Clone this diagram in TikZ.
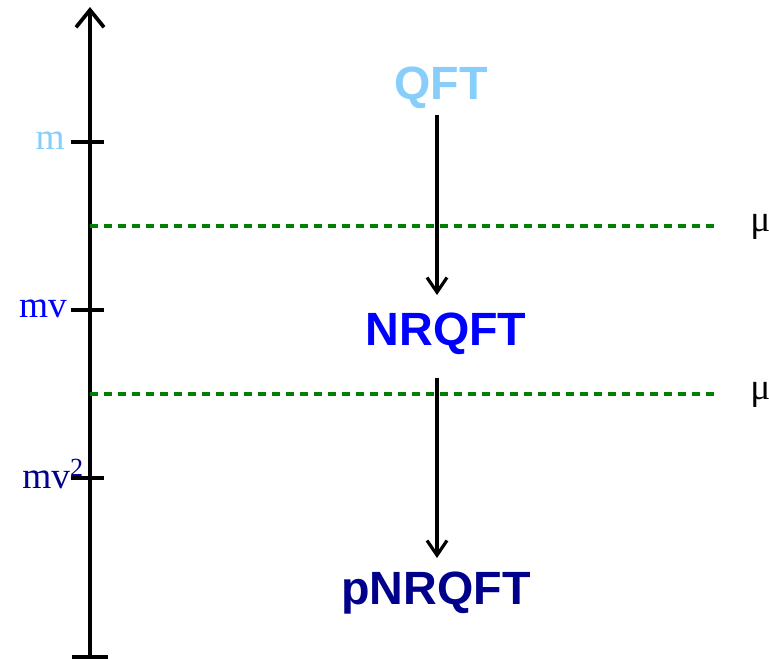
\documentclass[tikz,border=0pt]{standalone}
\usepackage{fontspec}
\setmainfont{Liberation Serif}
\newfontfamily\headfont{Liberation Sans}
\usetikzlibrary{arrows.meta}
\definecolor{qftcol}{RGB}{135,206,250}
\definecolor{nrqftcol}{RGB}{0,0,255}
\definecolor{pnrqftcol}{RGB}{0,0,139}
\definecolor{scalecol}{RGB}{0,128,0}
\tikzset{
  axisline/.style={line width=3.3pt},
  tickline/.style={line width=3pt},
  flow/.style={line width=2.4pt,-{Straight Barb[length=11pt,width=15pt,line width=2.4pt]}},
  scaleline/.style={scalecol,line width=2.4pt,dash pattern=on 6pt off 4.5pt},
  theory/.style={font=\headfont\fontsize{35}{40}\selectfont\bfseries,inner sep=0pt,anchor=base},
  masslabel/.style={font=\fontsize{28}{32}\selectfont,anchor=base east,inner sep=0pt},
  scalelabel/.style={font=\fontsize{28}{32}\selectfont,anchor=base west,inner sep=0pt}
}
\begin{document}
\begin{tikzpicture}[x=0.75pt,y=-0.75pt]
  \useasboundingbox (0,0) rectangle (769,659);
  % energy axis
  \coordinate (bot) at (90,657);
  \coordinate (top) at (90,7);
  \draw[axisline,-{Straight Barb[length=13pt,width=21pt,line width=2.8pt]}] (bot) -- (top);
  \draw[tickline] (72,657) -- (108,657);
  % mass scales
  \coordinate (tm) at (90,142);
  \coordinate (tmv) at (90,310);
  \coordinate (tmvv) at (90,478);
  \foreach \t in {tm,tmv,tmvv} \draw[tickline] ([xshift=-14pt]\t) -- ([xshift=10.5pt]\t);
  \node[masslabel,text=qftcol] (lm) at (65,150) {m};
  \node[masslabel,text=nrqftcol] (lmv) at (67,318) {mv};
  \node[masslabel,text=pnrqftcol] (lmvv) at (84,489) {mv\textsuperscript{2}};
  % factorisation scales
  \coordinate (s1a) at (90,226);
  \coordinate (s1b) at (715,226);
  \coordinate (s2a) at (90,394);
  \coordinate (s2b) at (715,394);
  \draw[scaleline] (s1a) -- (s1b);
  \draw[scaleline] (s2a) -- (s2b);
  \node[scalelabel] (mu) at (750,232) {μ};
  \node[scalelabel] (mup) at (750,400) {μ'};
  % effective theories
  \node[theory,text=qftcol] (qft) at (441,100) {QFT};
  \node[theory,text=nrqftcol] (nrqft) at (446,346) {NRQFT};
  \node[theory,text=pnrqftcol] (pnrqft) at (436,605) {pNRQFT};
  % reduction arrows between the theories
  \coordinate (a1) at (437,115);
  \coordinate (b1) at (437,295);
  \coordinate (a2) at (437,378);
  \coordinate (b2) at (437,558);
  \draw[flow] (a1) -- (b1);
  \draw[flow] (a2) -- (b2);
\end{tikzpicture}
\end{document}
